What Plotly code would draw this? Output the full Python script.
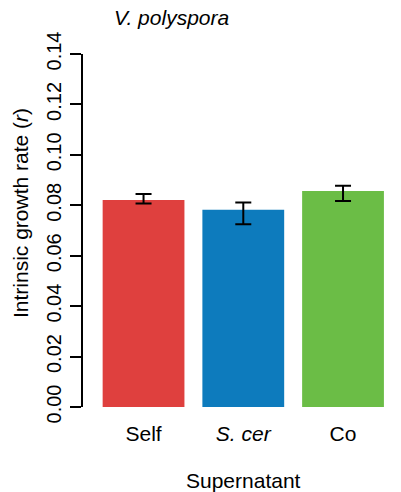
import plotly.graph_objects as go

# Data
categories = ["Self", "S. cer", "Co"]
tick_text = ["Self", "<i>S. cer</i>", "Co"]
growth_rate = [0.0821, 0.0782, 0.0857]
upper_bound = [0.0845, 0.0811, 0.0877]
lower_bound = [0.0807, 0.0725, 0.0817]
bar_colors = ["#DF403E", "#0D7BBD", "#6BBD46"]
y_ticks = [0.00, 0.02, 0.04, 0.06, 0.08, 0.10, 0.12, 0.14]

err_plus = [u - m for u, m in zip(upper_bound, growth_rate)]
err_minus = [m - l for m, l in zip(growth_rate, lower_bound)]

FONT = "Liberation Sans, Arial, Helvetica, sans-serif"

W, H = 401, 492
L, R, T, B = 83, 9, 54, 85
pw, ph = W - L - R, H - T - B

def px_x(x):
    return (x - L) / pw

def px_y(y):
    return (H - B - y) / ph

fig = go.Figure()
fig.add_trace(go.Bar(
    x=list(range(len(categories))),
    y=growth_rate,
    width=0.82,
    marker=dict(color=bar_colors, line=dict(width=0)),
    error_y=dict(type="data", array=err_plus, arrayminus=err_minus,
                 color="black", thickness=2, width=8, visible=True),
    showlegend=False,
    hoverinfo="skip",
))

fig.update_layout(
    template="none",
    width=W, height=H,
    margin=dict(l=L, r=R, t=T, b=B, pad=0),
    paper_bgcolor="white", plot_bgcolor="white",
    font=dict(family=FONT, color="black"),
    xaxis=dict(
        range=[-0.607, 2.491],
        tickmode="array",
        tickvals=list(range(len(categories))),
        ticktext=tick_text,
        showline=False, showgrid=False, zeroline=False,
        ticks="", tickfont=dict(size=21, family=FONT, color="black"),
        ticklabelstandoff=12,
    ),
    yaxis=dict(
        range=[0, 0.14],
        tickmode="array",
        tickvals=y_ticks,
        ticktext=[f"{v:.2f}" for v in y_ticks],
        showline=True, linecolor="black", linewidth=2,
        ticks="outside", ticklen=11, tickwidth=2, tickcolor="black",
        showgrid=False, zeroline=False,
        tickangle=-90,
        tickfont=dict(size=20, family=FONT, color="black"),
        ticklabelstandoff=1,
    ),
    annotations=[
        dict(text="<i>V. polyspora</i>", xref="paper", yref="paper",
             x=px_x(112), y=px_y(17), xanchor="left", yanchor="middle",
             showarrow=False, font=dict(size=21, family=FONT, color="black")),
        dict(text="Intrinsic growth rate (<i>r</i>)", xref="paper", yref="paper",
             x=px_x(21), y=px_y(213), xanchor="center", yanchor="middle",
             textangle=-90,
             showarrow=False, font=dict(size=21, family=FONT, color="black")),
        dict(text="Supernatant", xref="paper", yref="paper",
             x=px_x(243.5), y=px_y(480), xanchor="center", yanchor="middle",
             showarrow=False, font=dict(size=21, family=FONT, color="black")),
    ],
)

fig.write_html("out.html")
